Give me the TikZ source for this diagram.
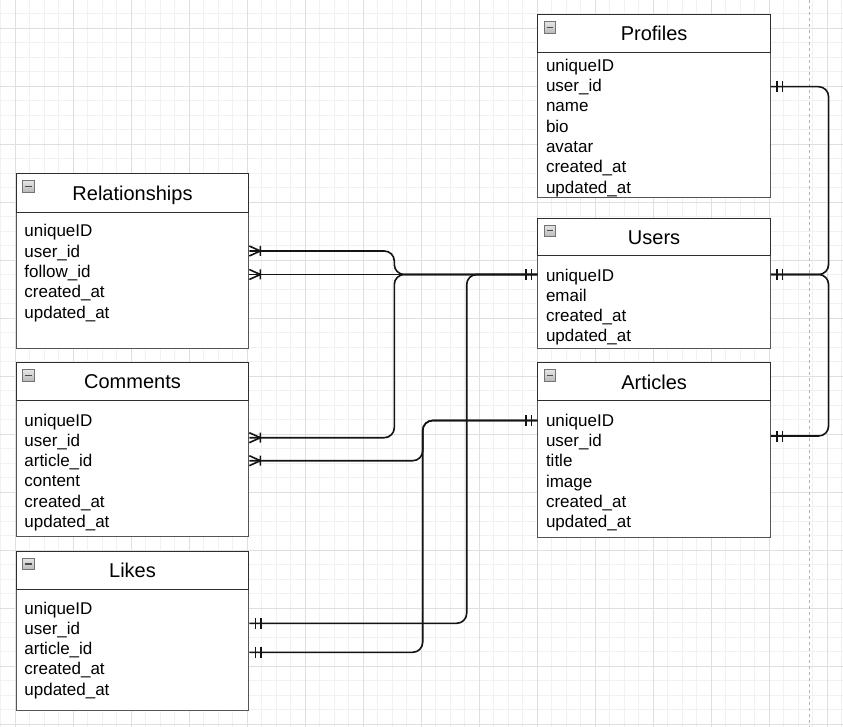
\documentclass[tikz,border=0pt]{standalone}
\usepackage{fontspec}
\setmainfont{Liberation Sans}
\usetikzlibrary{calc}
\definecolor{gridmajor}{HTML}{DFDFDF}
\definecolor{gridminor}{HTML}{F1F1F1}
\definecolor{headline}{HTML}{2E2E2E}
\definecolor{bodyline}{HTML}{555555}
\definecolor{connline}{HTML}{141414}
\tikzset{
  tablebox/.style={draw=bodyline, line width=1pt, fill=white, anchor=north west, inner sep=0pt, minimum width=232.6pt},
  headbox/.style={draw=headline, line width=1pt, fill=white, anchor=north west, inner sep=0pt, minimum width=232.6pt},
  titletext/.style={anchor=base, inner sep=0pt, font=\fontsize{20}{24}\selectfont},
  fieldtext/.style={anchor=base west, inner sep=0pt, font=\fontsize{17}{20}\selectfont},
  iconbox/.style={draw=black!55, top color=gray!20, bottom color=gray!55, line width=0.8pt},
  iconminus/.style={draw=black!70, line width=1.4pt},
  conn/.style={draw=connline, line width=1.6pt, rounded corners=10pt},
  tickline/.style={draw=connline, line width=1.6pt},
  minorgrid/.style={draw=gridminor, line width=0.8pt},
  majorgrid/.style={draw=gridmajor, line width=1pt},
  pagebreak/.style={draw=gray!60, line width=0.8pt, dash pattern=on 3pt off 3pt}
}
% #1 id, #2 x, #3 top, #4 header bottom, #5 bottom, #6 title, #7 first baseline, #8 fields
\newcommand\entity[8]{%
  \pgfmathsetmacro\entH{#5-#3}%
  \pgfmathsetmacro\hdH{#4-#3}%
  \node[tablebox, minimum height=\entH pt] (#1) at (#2,#3) {};
  \node[headbox, minimum height=\hdH pt] (#1-h) at (#2,#3) {};
  \node[titletext] (#1-t) at ($(#1-h.center)+(0,7.5)$) {#6};
  \draw[iconbox] ($(#1-h.north west)+(6.8,7.4)$) rectangle ++(11.6,11.4);
  \draw[iconminus] ($(#1-h.north west)+(9.4,13.1)$) -- ++(6.4,0);
  \foreach \f [count=\i from 0] in {#8} {
    \node[fieldtext] (#1-f\i) at ($(#2,#7)+(8.5,\i*20.3)$) {\f};
  }
}
\newcommand\manyend[1]{%
  \draw[tickline] ($(#1)+(0,-5)$) -- ($(#1)+(11,0)$) -- ($(#1)+(0,5)$)
    ($(#1)+(11,-5)$) -- ++(0,10);}
\newcommand\oneend[2]{%
  \draw[tickline] ($(#1)+(#2*6,-5.5)$) -- ++(0,11)
    ($(#1)+(#2*11.5,-5.5)$) -- ++(0,11);}
\begin{document}
\begin{tikzpicture}[x=1pt,y=-1pt]
\useasboundingbox (0,0) rectangle (843,727);
\fill[white] (0,0) rectangle (843,727);
% grid
\foreach \i in {-1,...,57} {\draw[minorgrid] ({15+14.5*\i},0) -- ({15+14.5*\i},727);}
\foreach \i in {-1,...,50} {\draw[minorgrid] (0,{13.8+14.5*\i}) -- (843,{13.8+14.5*\i});}
\foreach \i in {0,...,14} {\draw[majorgrid] ({15+58*\i},0) -- ({15+58*\i},727);}
\foreach \i in {0,...,12} {\draw[majorgrid] (0,{28.3+58*\i}) -- (843,{28.3+58*\i});}
\draw[pagebreak] (809,0) -- (809,727);
% tables
\entity{prof}{537.3}{14.3}{51.7}{197.3}{Profiles}{71.3}{uniqueID,user\_id,name,bio,avatar,created\_at,updated\_at}
\entity{usr}{537.3}{217.7}{254.9}{348}{Users}{281}{uniqueID,email,created\_at,updated\_at}
\entity{art}{537.3}{362.3}{400}{537}{Articles}{426.3}{uniqueID,user\_id,title,image,created\_at,updated\_at}
\entity{rel}{15.7}{173.3}{211.7}{348}{Relationships}{237}{uniqueID,user\_id,follow\_id,created\_at,updated\_at}
\entity{com}{15.7}{362.3}{399.5}{536}{Comments}{426}{uniqueID,user\_id,article\_id,content,created\_at,updated\_at}
\entity{lik}{15.7}{551}{588.5}{710.3}{Likes}{614}{uniqueID,user\_id,article\_id,created\_at,updated\_at}
% connection points
\coordinate (relU) at ($(rel.north east)+(0,77.7)$);
\coordinate (relF) at ($(rel.north east)+(0,101.2)$);
\coordinate (comU) at ($(com.north east)+(0,75.4)$);
\coordinate (comA) at ($(com.north east)+(0,98.4)$);
\coordinate (likU) at ($(lik.north east)+(0,72.3)$);
\coordinate (likA) at ($(lik.north east)+(0,101.3)$);
\coordinate (usrL) at ($(usr.north west)+(0,56.8)$);
\coordinate (usrR) at ($(usr.north east)+(0,56.8)$);
\coordinate (artL) at ($(art.north west)+(0,58.2)$);
\coordinate (artR) at ($(art.north east)+(0,73.7)$);
\coordinate (profR) at ($(prof.north east)+(0,72.4)$);
% connectors
\draw[conn] (relU) -- ++(145,0) |- (usrL);
\draw[conn] (relF) -- (usrL);
\draw[conn] (comU) -- ++(145,0) |- (usrL);
\draw[conn] (likU) -- ++(217.4,0) |- (usrL);
\draw[conn] (comA) -- ++(173.4,0) |- (artL);
\draw[conn] (likA) -- ++(173.4,0) |- (artL);
\draw[conn] (profR) -- ++(57.7,0) |- (usrR);
\draw[conn] (artR) -- ++(57.7,0) |- (usrR);
% end markers
\manyend{relU}
\manyend{relF}
\manyend{comU}
\manyend{comA}
\oneend{likU}{1}
\oneend{likA}{1}
\oneend{usrL}{-1}
\oneend{artL}{-1}
\oneend{profR}{1}
\oneend{usrR}{1}
\oneend{artR}{1}
\end{tikzpicture}
\end{document}
